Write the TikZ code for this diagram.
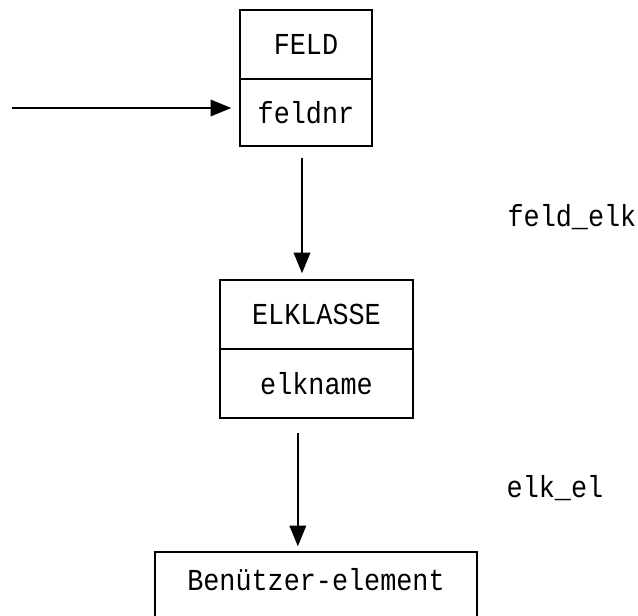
\documentclass[tikz,border=0pt]{standalone}
\usepackage{fontspec}
\setmainfont[FakeStretch=0.88]{Liberation Mono}
\usetikzlibrary{arrows.meta}

\tikzset{
    entity/.style={draw, line width=1.3pt, inner sep=0pt, minimum width=#1},
    pfeil/.style={line width=1.3pt, -{Triangle[length=0.62cm, width=0.5cm]}},
}

\begin{document}
\begin{tikzpicture}[x=0.03cm, y=-0.03cm, font=\fontsize{26}{28}\selectfont]

        \useasboundingbox (0,0) rectangle (638,616);
        \clip (0,0) rectangle (638,616);

        % FELD
        \node [entity=3.96cm, minimum height=2.07cm] (feld) at (306,44.5) {FELD};
        \node [entity=3.96cm, minimum height=2.01cm] (feldnr) at (306,112.5) {feldnr};

        % ELKLASSE
        \node [entity=5.79cm, minimum height=2.07cm] (elklasse) at (316.5,314.5) {ELKLASSE};
        \node [entity=5.79cm, minimum height=2.07cm] (elkname) at (316.5,383.5) {elkname};

        % Benuetzer-element (unten abgeschnitten)
        \node [entity=9.66cm, minimum height=3cm, text depth=1.35cm] (benutzer) at (316,602) {Benützer-element};

        \coordinate (ein) at (12,108);
        \draw [pfeil, shorten >=0.24cm] (ein) -- (ein -| feldnr.west);

        \draw [pfeil, shorten <=0.33cm, shorten >=0.18cm] ([xshift=-0.12cm]feldnr.south) -- ([xshift=-0.12cm]feldnr.south |- elklasse.north);
        \draw [pfeil, shorten <=0.42cm, shorten >=0.15cm] ([xshift=-0.56cm]elkname.south) -- ([xshift=-0.56cm]elkname.south |- benutzer.north);

        \node (feldelk) at (572,217) {feld\_elk};
        \node (elkel) at (555,488) {elk\_el};

    \end{tikzpicture}
\end{document}
